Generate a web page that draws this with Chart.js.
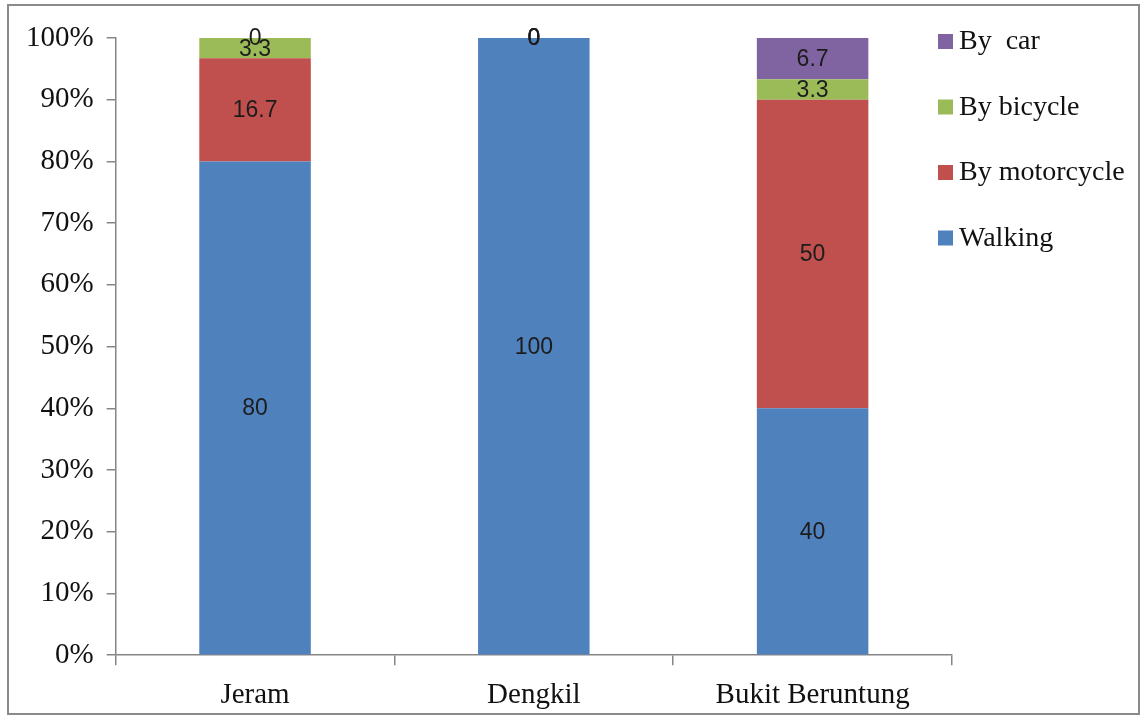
<!DOCTYPE html>
<html>
<head>
<meta charset="utf-8">
<script src="https://cdn.jsdelivr.net/npm/chart.js@4/dist/chart.umd.min.js"></script>
<style>
  body { margin: 0; background: #fff; overflow: hidden; }
  #grafico { position: absolute; left: 9px; top: 6px; }
  #marco { position: absolute; left: 7px; top: 4px; width: 1133px; height: 711px; border: 2px solid #8a8a8a; box-sizing: border-box; pointer-events: none; }
</style>
</head>
<body>
<canvas id="grafico" width="1129" height="720"></canvas>
<div id="marco"></div>
<script>
var lugares = ["Jeram", "Dengkil", "Bukit Beruntung"];
var caminando = [80, 100, 40];
var moto = [16.7, 0, 50];
var bicicleta = [3.3, 0, 3.3];
var auto = [0, 0, 6.7];
var etiquetasY = ["0%", "10%", "20%", "30%", "40%", "50%", "60%", "70%", "80%", "90%", "100%"];

var gris = "#868686";

// etiquetas de valor dentro de cada barra
var pluginValores = {
  id: "valores",
  afterDatasetsDraw: function (chart) {
    var ctx = chart.ctx;
    ctx.save();
    ctx.font = "23px 'Liberation Sans'";
    ctx.fillStyle = "#1c1c1c";
    ctx.textAlign = "center";
    ctx.textBaseline = "middle";
    chart.data.datasets.forEach(function (ds, i) {
      chart.getDatasetMeta(i).data.forEach(function (barra, j) {
        var y = (barra.y + barra.base) / 2;
        ctx.fillText(String(ds.data[j]), barra.x, y + 1);
      });
    });
    ctx.restore();
  },
};

// leyenda a la derecha, orden inverso
var pluginLeyenda = {
  id: "leyendaDerecha",
  afterDraw: function (chart) {
    var ctx = chart.ctx;
    var area = chart.chartArea;
    ctx.save();
    ctx.font = "28px 'Liberation Serif'";
    ctx.textBaseline = "middle";
    var lista = chart.data.datasets.slice().reverse();
    lista.forEach(function (ds, k) {
      var yc = 35 + k * 65.5;
      var x = area.right - 14;
      ctx.fillStyle = ds.backgroundColor;
      ctx.fillRect(x, yc - 7, 15, 15);
      ctx.fillStyle = "#111";
      ctx.fillText(ds.label, x + 21, yc + 1);
    });
    ctx.restore();
  },
};

const ctx = document.getElementById("grafico");

var myChart = new Chart(ctx, {
  type: "bar",
  data: {
    labels: lugares,
    datasets: [
      { label: "Walking", data: caminando, backgroundColor: "#4F81BD" },
      { label: "By motorcycle", data: moto, backgroundColor: "#C0504D" },
      { label: "By bicycle", data: bicicleta, backgroundColor: "#9BBB59" },
      { label: "By  car", data: auto, backgroundColor: "#8064A2" },
    ],
  },
  options: {
    responsive: false,
    animation: false,
    categoryPercentage: 1,
    barPercentage: 0.4,
    layout: { padding: { left: 4, right: 186, top: 32, bottom: 0 } },
    plugins: {
      legend: { display: false },
      tooltip: { enabled: false },
    },
    scales: {
      x: {
        stacked: true,
        grid: { drawOnChartArea: false, offset: true, tickLength: 10, color: gris, lineWidth: 1.5 },
        border: { color: gris, width: 1.5 },
        ticks: { color: "#111", padding: 13, font: { family: "'Liberation Serif'", size: 29 } },
      },
      y: {
        stacked: true,
        min: 0,
        max: 100,
        grid: { drawOnChartArea: false, tickLength: 9, color: gris, lineWidth: 1.5 },
        border: { color: gris, width: 1.5 },
        ticks: {
          stepSize: 10,
          color: "#111",
          padding: 13,
          font: { family: "'Liberation Serif'", size: 29 },
          callback: function (value, index) {
            return etiquetasY[index];
          },
        },
      },
    },
  },
  plugins: [pluginValores, pluginLeyenda],
});
</script>
</body>
</html>
